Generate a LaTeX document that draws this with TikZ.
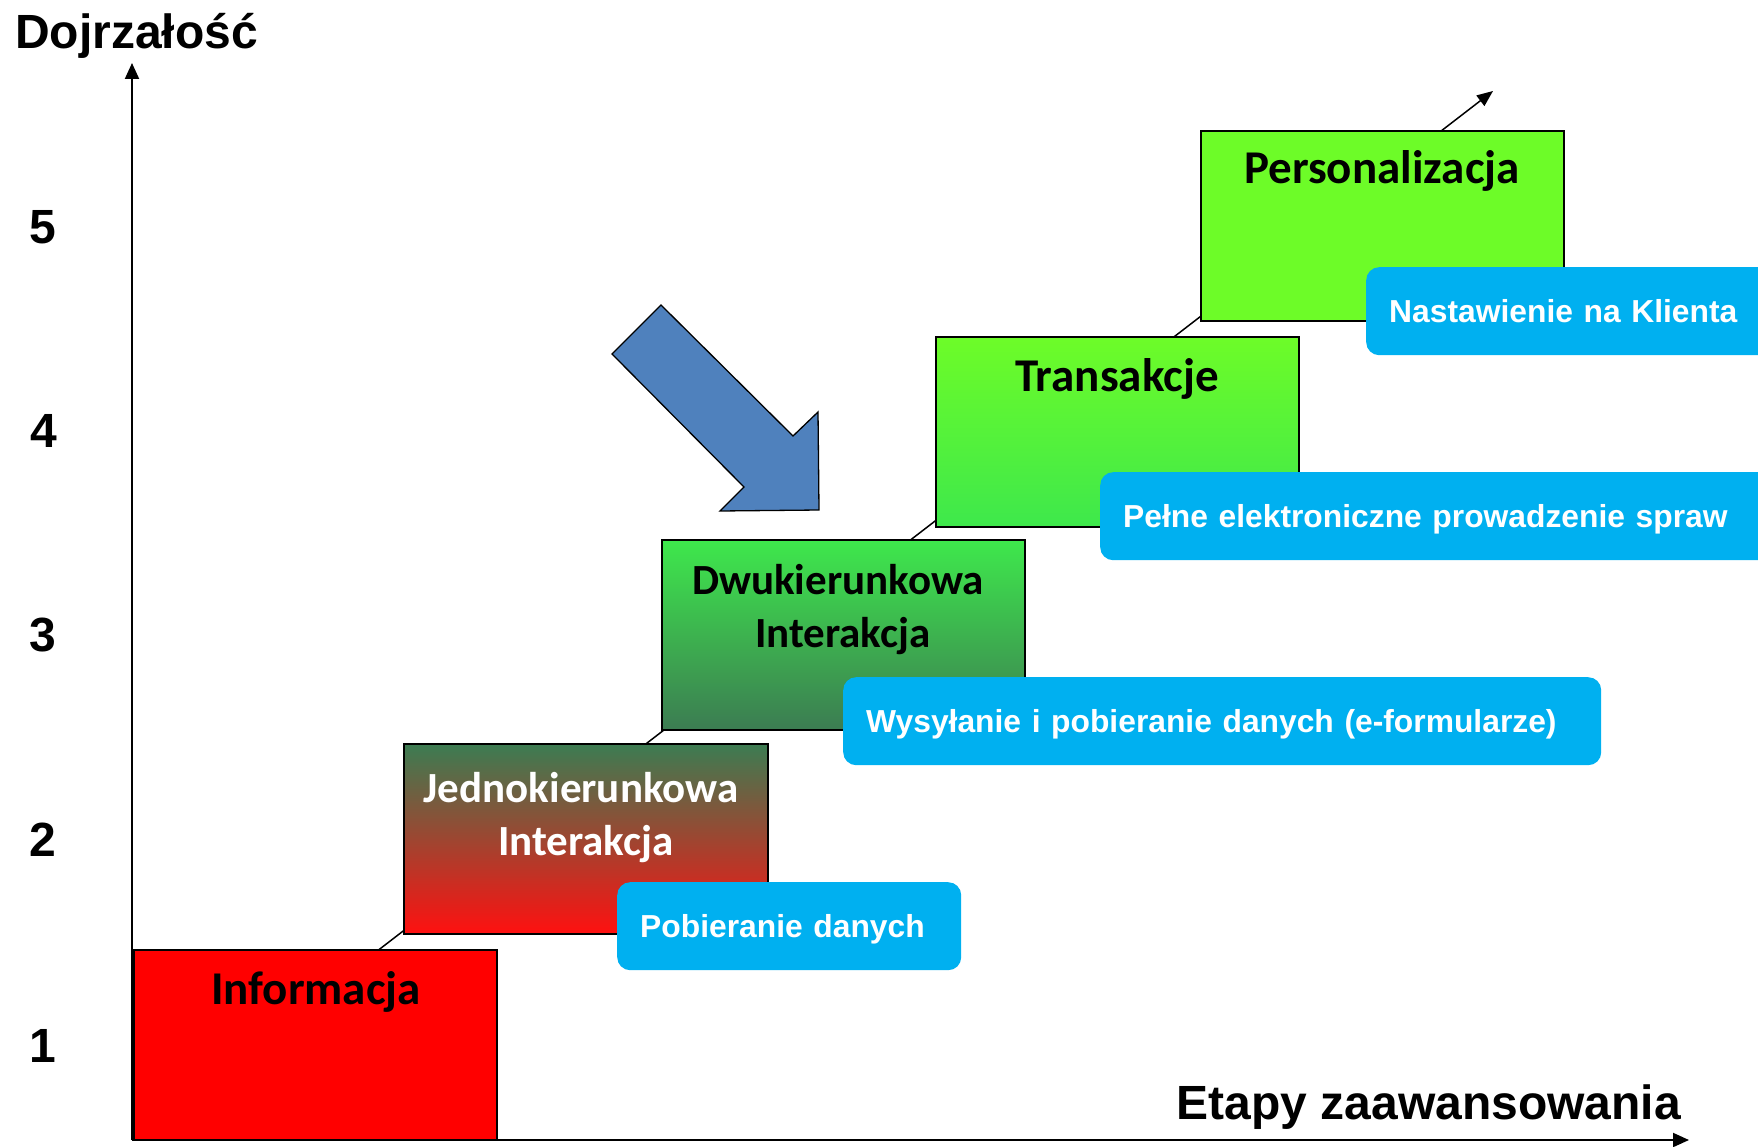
\documentclass[tikz,border=0pt]{standalone}
\usepackage{fontspec}
\setmainfont{Liberation Sans}
\newfontfamily\carlito{Carlito}
\usetikzlibrary{arrows.meta}
\definecolor{redA}{RGB}{255,0,0}
\definecolor{redB}{RGB}{255,16,16}
\definecolor{darkG}{RGB}{60,124,82}
\definecolor{midG}{RGB}{62,232,76}
\definecolor{limeG}{RGB}{109,252,40}
\definecolor{cyanB}{RGB}{0,176,240}
\definecolor{arrowB}{RGB}{79,129,189}
\begin{document}
\begin{tikzpicture}[x=1pt,y=-1pt,
  stage/.style={draw=black, line width=1.5pt, minimum width=363pt, minimum height=190pt,
    anchor=north west, inner sep=0pt, outer sep=0pt},
  stagetitle/.style={font=\carlito\bfseries\fontsize{47}{53}\selectfont, align=center,
    anchor=base, inner sep=0pt},
  stagetitletwo/.style={stagetitle, font=\carlito\bfseries\fontsize{43}{53}\selectfont},
  tag/.style={fill=cyanB, rounded corners=13pt, anchor=north west, inner xsep=23pt,
    inner ysep=0pt, minimum height=88pt, text=white, align=left,
    font=\bfseries\fontsize{31.8}{38}\selectfont, text height=23pt, text depth=0pt},
  axislabel/.style={font=\bfseries\fontsize{48}{56}\selectfont, inner sep=0pt},
  axisline/.style={line width=2pt, -{Triangle[length=16pt,width=14pt]}},
  growth/.style={line width=1.5pt, -{Triangle[length=16pt,width=13pt]}}
]
\useasboundingbox (0,0) rectangle (1758,1147);
\clip (0,0) rectangle (1758,1147);

% coordinates
\coordinate (O) at (132,1140);
\coordinate (yEnd) at (132,63);
\coordinate (xEnd) at (1689,1140);
\coordinate (gEnd) at (1493,91);

% growth line behind the stages
\draw[growth] (O) -- (gEnd);

% axes
\draw[axisline] (O) -- (yEnd);
\draw[axisline] (O) -- (xEnd);

% axis labels
\node[axislabel, anchor=base west] (ylab) at (15,49) {Dojrzałość};
\node[axislabel, anchor=base east] (xlab) at (1681,1119) {Etapy zaawansowania};
\node[axislabel] (n1) at (43,1046) {1};
\node[axislabel] (n2) at (43,840) {2};
\node[axislabel] (n3) at (43,635) {3};
\node[axislabel] (n4) at (44,431) {4};
\node[axislabel] (n5) at (43,227) {5};

% stages
\node[stage, fill=redA] (s1) at (134,950) {};
\node[stage, top color=darkG, bottom color=redB, minimum width=364pt] (s2) at (404,744) {};
\node[stage, top color=midG, bottom color=darkG] (s3) at (662,540) {};
\node[stage, top color=limeG, bottom color=midG] (s4) at (936,337) {};
\node[stage, fill=limeG] (s5) at (1201,131) {};

\node[stagetitle] (t1) at (316,1004) {Informacja};
\node[stagetitletwo, text=white] (t2) at (586,855) {Jednokierunkowa\hspace*{10pt}\\Interakcja};
\node[stagetitletwo] (t3) at (843,647) {Dwukierunkowa\hspace*{10pt}\\Interakcja};
\node[stagetitle] (t4) at (1117,391) {Transakcje};
\node[stagetitle] (t5) at (1382,184) {Personalizacja};

% tags
\node[tag, text width=298pt] (g1) at (617,882) {Pobieranie danych};
\node[tag, text width=712pt] (g2) at (843,677) {Wysyłanie i pobieranie danych (e-formularze)};
\node[tag, text width=660pt] (g3) at (1100,472) {Pełne elektroniczne prowadzenie spraw};
\node[tag, text width=400pt] (g4) at (1366,267) {Nastawienie na Klienta};

% blue arrow
\draw[fill=arrowB, line width=1.3pt, line join=miter]
  (661,305) -- (612,354) -- (744,487) -- (720,511) -- (819,510) -- (818,412) -- (793,436) -- cycle;
\end{tikzpicture}
\end{document}
